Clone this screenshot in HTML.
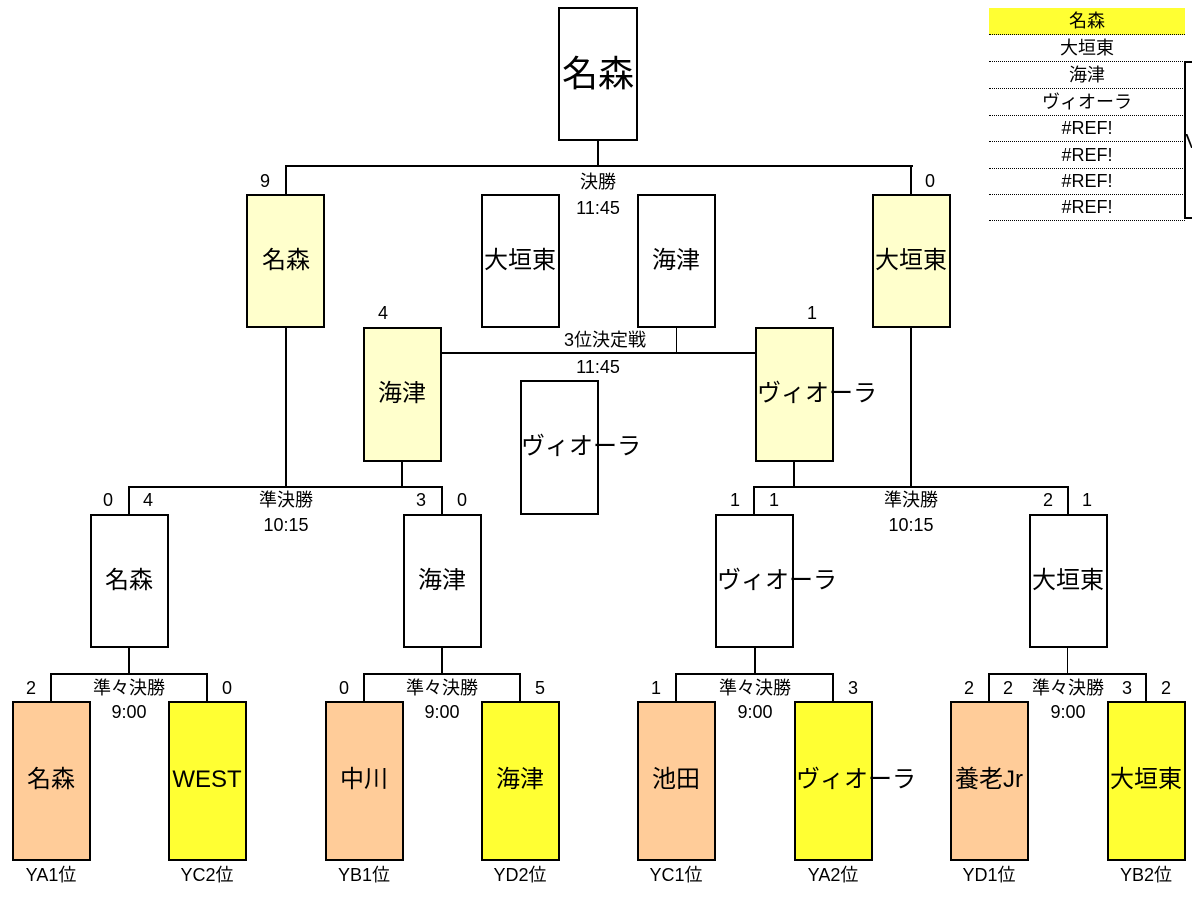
<!DOCTYPE html>
<html><head><meta charset="utf-8"><style>
body{margin:0;width:1192px;height:900px;background:#fff;position:relative;overflow:hidden;font-family:"Liberation Sans","Noto Sans CJK JP",sans-serif;color:#000}
.b{position:absolute;border:2px solid #000;box-sizing:border-box}
.t{position:absolute;white-space:nowrap;transform:translate(-50%,-50%);line-height:1}
.l{transform:translate(0,-50%)}
.h{position:absolute;background:#000;height:2px}
.v{position:absolute;background:#000;width:2px}
.s{font-size:18px}
.m{font-size:24px}
.pale{background:#ffffcc}.or{background:#ffcc99}.ye{background:#ffff33}
.row{position:absolute;left:989px;width:196px;height:26px;border-bottom:1.5px dotted #000;font-size:18px;text-align:center;line-height:27px}
</style></head><body>
<div class="b" style="left:558px;top:7px;width:80px;height:134px"></div>
<div class="t" style="left:598px;top:74px;font-size:36px">名森</div>
<div class="v" style="left:597px;top:140px;height:26px"></div>
<div class="h" style="left:285px;top:165px;width:628px;height:1.5px"></div>
<div class="v" style="left:285px;top:166px;height:28px"></div>
<div class="v" style="left:910px;top:166px;height:28px"></div>
<div class="t s" style="left:265px;top:181px">9</div>
<div class="t s" style="left:930px;top:181px">0</div>
<div class="t s" style="left:598px;top:182px">決勝</div>
<div class="t s" style="left:598px;top:208px">11:45</div>
<div class="b pale" style="left:246px;top:194px;width:79px;height:134px"></div>
<div class="t m" style="left:286px;top:261px">名森</div>
<div class="b pale" style="left:872px;top:194px;width:79px;height:134px"></div>
<div class="t m" style="left:911px;top:261px">大垣東</div>
<div class="b" style="left:481px;top:194px;width:79px;height:134px"></div>
<div class="t m" style="left:520px;top:261px">大垣東</div>
<div class="b" style="left:637px;top:194px;width:79px;height:134px"></div>
<div class="t m" style="left:676px;top:261px">海津</div>
<div class="h" style="left:441px;top:352px;width:315px"></div>
<div class="v" style="left:676px;top:327px;height:26px;width:1px"></div>
<div class="t s" style="left:605px;top:340px">3位決定戦</div>
<div class="t s" style="left:598px;top:367px">11:45</div>
<div class="b" style="left:520px;top:380px;width:79px;height:135px"></div>
<div class="t m l" style="left:521px;top:447px">ヴィオーラ</div>
<div class="b pale" style="left:363px;top:327px;width:79px;height:135px"></div>
<div class="t m" style="left:402px;top:394px">海津</div>
<div class="t s" style="left:383px;top:313px">4</div>
<div class="b pale" style="left:755px;top:327px;width:79px;height:135px"></div>
<div class="t m l" style="left:757px;top:394px">ヴィオーラ</div>
<div class="t s" style="left:812px;top:313px">1</div>
<div class="v" style="left:285px;top:327px;height:161px"></div>
<div class="v" style="left:401px;top:461px;height:27px"></div>
<div class="h" style="left:128px;top:486px;width:315px"></div>
<div class="v" style="left:128px;top:487px;height:28px"></div>
<div class="v" style="left:441px;top:487px;height:28px"></div>
<div class="v" style="left:910px;top:327px;height:161px"></div>
<div class="v" style="left:793px;top:461px;height:27px"></div>
<div class="h" style="left:753px;top:486px;width:316px"></div>
<div class="v" style="left:753px;top:487px;height:28px"></div>
<div class="v" style="left:1067px;top:487px;height:28px"></div>
<div class="t s" style="left:286px;top:500px">準決勝</div>
<div class="t s" style="left:286px;top:525px">10:15</div>
<div class="t s" style="left:911px;top:500px">準決勝</div>
<div class="t s" style="left:911px;top:525px">10:15</div>
<div class="t s" style="left:108px;top:500px">0</div>
<div class="t s" style="left:148px;top:500px">4</div>
<div class="t s" style="left:421px;top:500px">3</div>
<div class="t s" style="left:462px;top:500px">0</div>
<div class="t s" style="left:735px;top:500px">1</div>
<div class="t s" style="left:774px;top:500px">1</div>
<div class="t s" style="left:1048px;top:500px">2</div>
<div class="t s" style="left:1087px;top:500px">1</div>
<div class="b" style="left:90px;top:514px;width:79px;height:134px"></div>
<div class="t m" style="left:129px;top:581px">名森</div>
<div class="b" style="left:403px;top:514px;width:79px;height:134px"></div>
<div class="t m" style="left:442px;top:581px">海津</div>
<div class="b" style="left:715px;top:514px;width:79px;height:134px"></div>
<div class="t m l" style="left:717px;top:581px">ヴィオーラ</div>
<div class="b" style="left:1029px;top:514px;width:79px;height:134px"></div>
<div class="t m" style="left:1068px;top:581px">大垣東</div>
<div class="v" style="left:128px;top:647px;height:27px"></div>
<div class="h" style="left:50px;top:673px;width:158px"></div>
<div class="v" style="left:50px;top:674px;height:27px"></div>
<div class="v" style="left:206px;top:674px;height:27px"></div>
<div class="v" style="left:441px;top:647px;height:27px"></div>
<div class="h" style="left:363px;top:673px;width:158px"></div>
<div class="v" style="left:363px;top:674px;height:27px"></div>
<div class="v" style="left:519px;top:674px;height:27px"></div>
<div class="v" style="left:754px;top:647px;height:27px"></div>
<div class="h" style="left:675px;top:673px;width:159px"></div>
<div class="v" style="left:675px;top:674px;height:27px"></div>
<div class="v" style="left:832px;top:674px;height:27px"></div>
<div class="v" style="left:1067px;top:647px;height:27px;width:1px"></div>
<div class="h" style="left:988px;top:673px;width:159px"></div>
<div class="v" style="left:988px;top:674px;height:27px"></div>
<div class="v" style="left:1145px;top:674px;height:27px"></div>
<div class="t s" style="left:129px;top:688px">準々決勝</div><div class="t s" style="left:129px;top:712px">9:00</div>
<div class="t s" style="left:442px;top:688px">準々決勝</div><div class="t s" style="left:442px;top:712px">9:00</div>
<div class="t s" style="left:755px;top:688px">準々決勝</div><div class="t s" style="left:755px;top:712px">9:00</div>
<div class="t s" style="left:1068px;top:688px">準々決勝</div><div class="t s" style="left:1068px;top:712px">9:00</div>
<div class="t s" style="left:31px;top:688px">2</div><div class="t s" style="left:227px;top:688px">0</div>
<div class="t s" style="left:344px;top:688px">0</div><div class="t s" style="left:540px;top:688px">5</div>
<div class="t s" style="left:656px;top:688px">1</div><div class="t s" style="left:853px;top:688px">3</div>
<div class="t s" style="left:969px;top:688px">2</div><div class="t s" style="left:1008px;top:688px">2</div>
<div class="t s" style="left:1127px;top:688px">3</div><div class="t s" style="left:1166px;top:688px">2</div>
<div class="b or" style="left:12px;top:701px;width:79px;height:160px"></div><div class="t m" style="left:51px;top:780px">名森</div>
<div class="b ye" style="left:168px;top:701px;width:79px;height:160px"></div><div class="t m" style="left:207px;top:780px">WEST</div>
<div class="b or" style="left:325px;top:701px;width:79px;height:160px"></div><div class="t m" style="left:364px;top:780px">中川</div>
<div class="b ye" style="left:481px;top:701px;width:79px;height:160px"></div><div class="t m" style="left:520px;top:780px">海津</div>
<div class="b or" style="left:637px;top:701px;width:79px;height:160px"></div><div class="t m" style="left:676px;top:780px">池田</div>
<div class="b ye" style="left:794px;top:701px;width:79px;height:160px"></div><div class="t m l" style="left:796px;top:780px">ヴィオーラ</div>
<div class="b or" style="left:950px;top:701px;width:79px;height:160px"></div><div class="t m" style="left:989px;top:780px">養老Jr</div>
<div class="b ye" style="left:1107px;top:701px;width:79px;height:160px"></div><div class="t m" style="left:1146px;top:780px">大垣東</div>
<div class="t s" style="left:51px;top:875px">YA1位</div>
<div class="t s" style="left:207px;top:875px">YC2位</div>
<div class="t s" style="left:364px;top:875px">YB1位</div>
<div class="t s" style="left:520px;top:875px">YD2位</div>
<div class="t s" style="left:676px;top:875px">YC1位</div>
<div class="t s" style="left:833px;top:875px">YA2位</div>
<div class="t s" style="left:989px;top:875px">YD1位</div>
<div class="t s" style="left:1146px;top:875px">YB2位</div>
<div class="row" style="top:8px;background:#ffff33">名森</div>
<div class="row" style="top:35px">大垣東</div>
<div class="row" style="top:62px">海津</div>
<div class="row" style="top:89px">ヴィオーラ</div>
<div class="row" style="top:115px">#REF!</div>
<div class="row" style="top:142px">#REF!</div>
<div class="row" style="top:168px">#REF!</div>
<div class="row" style="top:194px">#REF!</div>
<div class="v" style="left:1184px;top:61px;height:158px;width:1.5px"></div>
<div class="h" style="left:1184px;top:61px;width:8px;height:1.5px"></div>
<div class="h" style="left:1184px;top:217px;width:8px;height:1.5px"></div>
<div class="t" style="left:1192px;top:142px;font-size:20px">V</div>
</body></html>
